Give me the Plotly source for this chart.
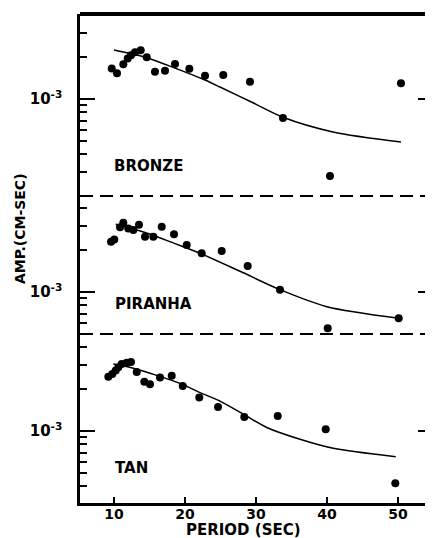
import plotly.graph_objects as go

# ---------------- data ----------------
period_bronze = [9.68, 10.42, 11.31, 11.93, 12.39, 12.96, 13.76, 14.61, 15.77, 17.18,
                 18.59, 20.61, 22.82, 25.39, 29.15, 33.80, 40.42, 50.42]
amp_bronze = [1.66e-3, 1.53e-3, 1.78e-3, 1.96e-3, 2.07e-3, 2.17e-3, 2.24e-3, 2.00e-3, 1.57e-3, 1.60e-3,
              1.79e-3, 1.65e-3, 1.47e-3, 1.49e-3, 1.33e-3, 7.3e-4, 2.79e-4, 1.30e-3]
curve_period_bronze = [10.0, 14.37, 18.59, 22.82, 24.93, 29.58, 33.80, 40.85, 50.42]
curve_amp_bronze = [2.25e-3, 2.0e-3, 1.67e-3, 1.37e-3, 1.22e-3, 9.4e-4, 7.4e-4, 5.8e-4, 4.9e-4]

period_piranha = [9.58, 10.04, 10.85, 11.31, 12.01, 12.72, 13.52, 14.37, 15.54, 16.72,
                  18.45, 20.24, 22.35, 25.17, 28.83, 33.38, 40.10, 50.10]
amp_piranha = [2.30e-3, 2.39e-3, 2.92e-3, 3.15e-3, 2.87e-3, 2.79e-3, 3.05e-3, 2.50e-3, 2.50e-3, 2.95e-3,
               2.61e-3, 2.18e-3, 1.90e-3, 1.97e-3, 1.54e-3, 1.04e-3, 5.48e-4, 6.47e-4]
curve_period_piranha = [10.24, 14.37, 18.59, 22.11, 27.75, 33.38, 40.0, 50.14]
curve_amp_piranha = [3.07e-3, 2.68e-3, 2.23e-3, 1.90e-3, 1.41e-3, 1.04e-3, 7.84e-4, 6.47e-4]

period_tan = [9.20, 9.76, 10.24, 10.61, 11.08, 11.79, 12.39, 13.20, 14.27, 15.07,
              16.48, 18.13, 19.68, 22.01, 24.65, 28.35, 33.06, 39.82, 49.62]
amp_tan = [2.46e-3, 2.57e-3, 2.72e-3, 2.87e-3, 3.03e-3, 3.10e-3, 3.14e-3, 2.66e-3, 2.26e-3, 2.17e-3,
           2.43e-3, 2.50e-3, 2.11e-3, 1.74e-3, 1.49e-3, 1.26e-3, 1.28e-3, 1.03e-3, 4.21e-4]
curve_period_tan = [9.90, 12.72, 19.30, 22.11, 24.93, 28.45, 31.51, 36.20, 40.89, 49.68]
curve_amp_tan = [3.03e-3, 2.83e-3, 2.20e-3, 1.89e-3, 1.64e-3, 1.30e-3, 1.06e-3, 8.72e-4, 7.51e-4, 6.53e-4]

panel_names = ["BRONZE", "PIRANHA", "TAN"]
x_tick_values = [10, 20, 30, 40, 50]
x_tick_labels = ["10", "20", "30", "40", "50"]
y_major_values = [1e-3]
y_major_labels = ["10<sup>-3</sup>"]
y_minor_values = [2e-4, 3e-4, 4e-4, 5e-4, 6e-4, 7e-4, 8e-4, 9e-4, 2e-3, 3e-3, 4e-3]
x_title = "PERIOD (SEC)"
y_title = "AMP.(CM-SEC)"

# ---------------- figure ----------------
FONT = "DejaVu Sans"
INK = "black"

fig = go.Figure()
series = [
    (period_bronze, amp_bronze, curve_period_bronze, curve_amp_bronze, "y3"),
    (period_piranha, amp_piranha, curve_period_piranha, curve_amp_piranha, "y2"),
    (period_tan, amp_tan, curve_period_tan, curve_amp_tan, "y"),
]
for px_, py_, cx_, cy_, ya in series:
    fig.add_trace(go.Scatter(x=cx_, y=cy_, mode="lines", yaxis=ya, xaxis="x",
                             line=dict(color=INK, width=1.5, shape="spline", smoothing=0.8),
                             hoverinfo="skip", showlegend=False))
    fig.add_trace(go.Scatter(x=px_, y=py_, mode="markers", yaxis=ya, xaxis="x",
                             marker=dict(color=INK, size=8, line=dict(width=0)),
                             showlegend=False))

def yax(domain, rng):
    return dict(
        type="log", domain=domain, range=rng, anchor="x", automargin=False,
        showline=True, linecolor=INK, linewidth=2.5, mirror="ticks",
        showgrid=False, zeroline=False,
        tickmode="array", tickvals=y_major_values, ticktext=y_major_labels,
        ticks="inside", ticklen=15, tickwidth=2, tickcolor=INK,
        ticklabelstandoff=12,
        tickfont=dict(family=FONT, size=15, color=INK, weight=700),
        minor=dict(tickmode="array", tickvals=y_minor_values, ticks="inside",
                   ticklen=7, tickwidth=1.5, tickcolor=INK, showgrid=False),
    )

fig.update_layout(
    width=425, height=530,
    margin=dict(l=72, r=0, t=6, b=35, autoexpand=False),
    paper_bgcolor="white", plot_bgcolor="white",
    showlegend=False,
    xaxis=dict(
        range=[5.21, 54.93], anchor="y", automargin=False,
        showline=True, linecolor=INK, linewidth=2.5,
        showgrid=False, zeroline=False,
        tickmode="array", tickvals=x_tick_values, ticktext=x_tick_labels,
        ticks="inside", ticklen=6, tickwidth=2, tickcolor=INK,
        ticklabelstandoff=-4,
        tickfont=dict(family=FONT, size=14, color=INK, weight=700),
    ),
    yaxis=yax([0, 0.3456], [-3.518, -2.302]),
    yaxis2=yax([0.3456, 0.6278], [-3.302, -2.309]),
    yaxis3=yax([0.6278, 1.0], [-3.698, -2.388]),
    shapes=[
        dict(type="line", xref="paper", yref="paper", x0=0, x1=1, y0=1, y1=1,
             line=dict(color=INK, width=4)),
        dict(type="line", xref="paper", yref="paper", x0=0, x1=1, y0=0.6278, y1=0.6278,
             line=dict(color=INK, width=2, dash="13px,7px")),
        dict(type="line", xref="paper", yref="paper", x0=0, x1=1, y0=0.3456, y1=0.3456,
             line=dict(color=INK, width=2, dash="13px,7px")),
    ],
)

label_font = dict(family=FONT, size=15, color=INK, weight=700)
annotations = [
    dict(text=panel_names[0], xref="x", yref="y3", x=9.72, y=-3.482,
         xanchor="left", yanchor="middle", showarrow=False, font=label_font),
    dict(text=panel_names[1], xref="x", yref="y2", x=9.86, y=-3.086,
         xanchor="left", yanchor="middle", showarrow=False, font=label_font),
    dict(text=panel_names[2], xref="x", yref="y", x=9.86, y=-3.266,
         xanchor="left", yanchor="middle", showarrow=False, font=label_font),
    dict(text=x_title, xref="paper", yref="paper", x=0.4618, y=-0.0552,
         xanchor="center", yanchor="middle", showarrow=False, font=label_font),
    dict(text=y_title, xref="paper", yref="paper", x=-0.17, y=0.5624, textangle=-90,
         xanchor="center", yanchor="middle", showarrow=False,
         font=dict(family=FONT, size=14, color=INK, weight=700)),
]
fig.update_layout(annotations=annotations)

fig.write_html("out.html")
